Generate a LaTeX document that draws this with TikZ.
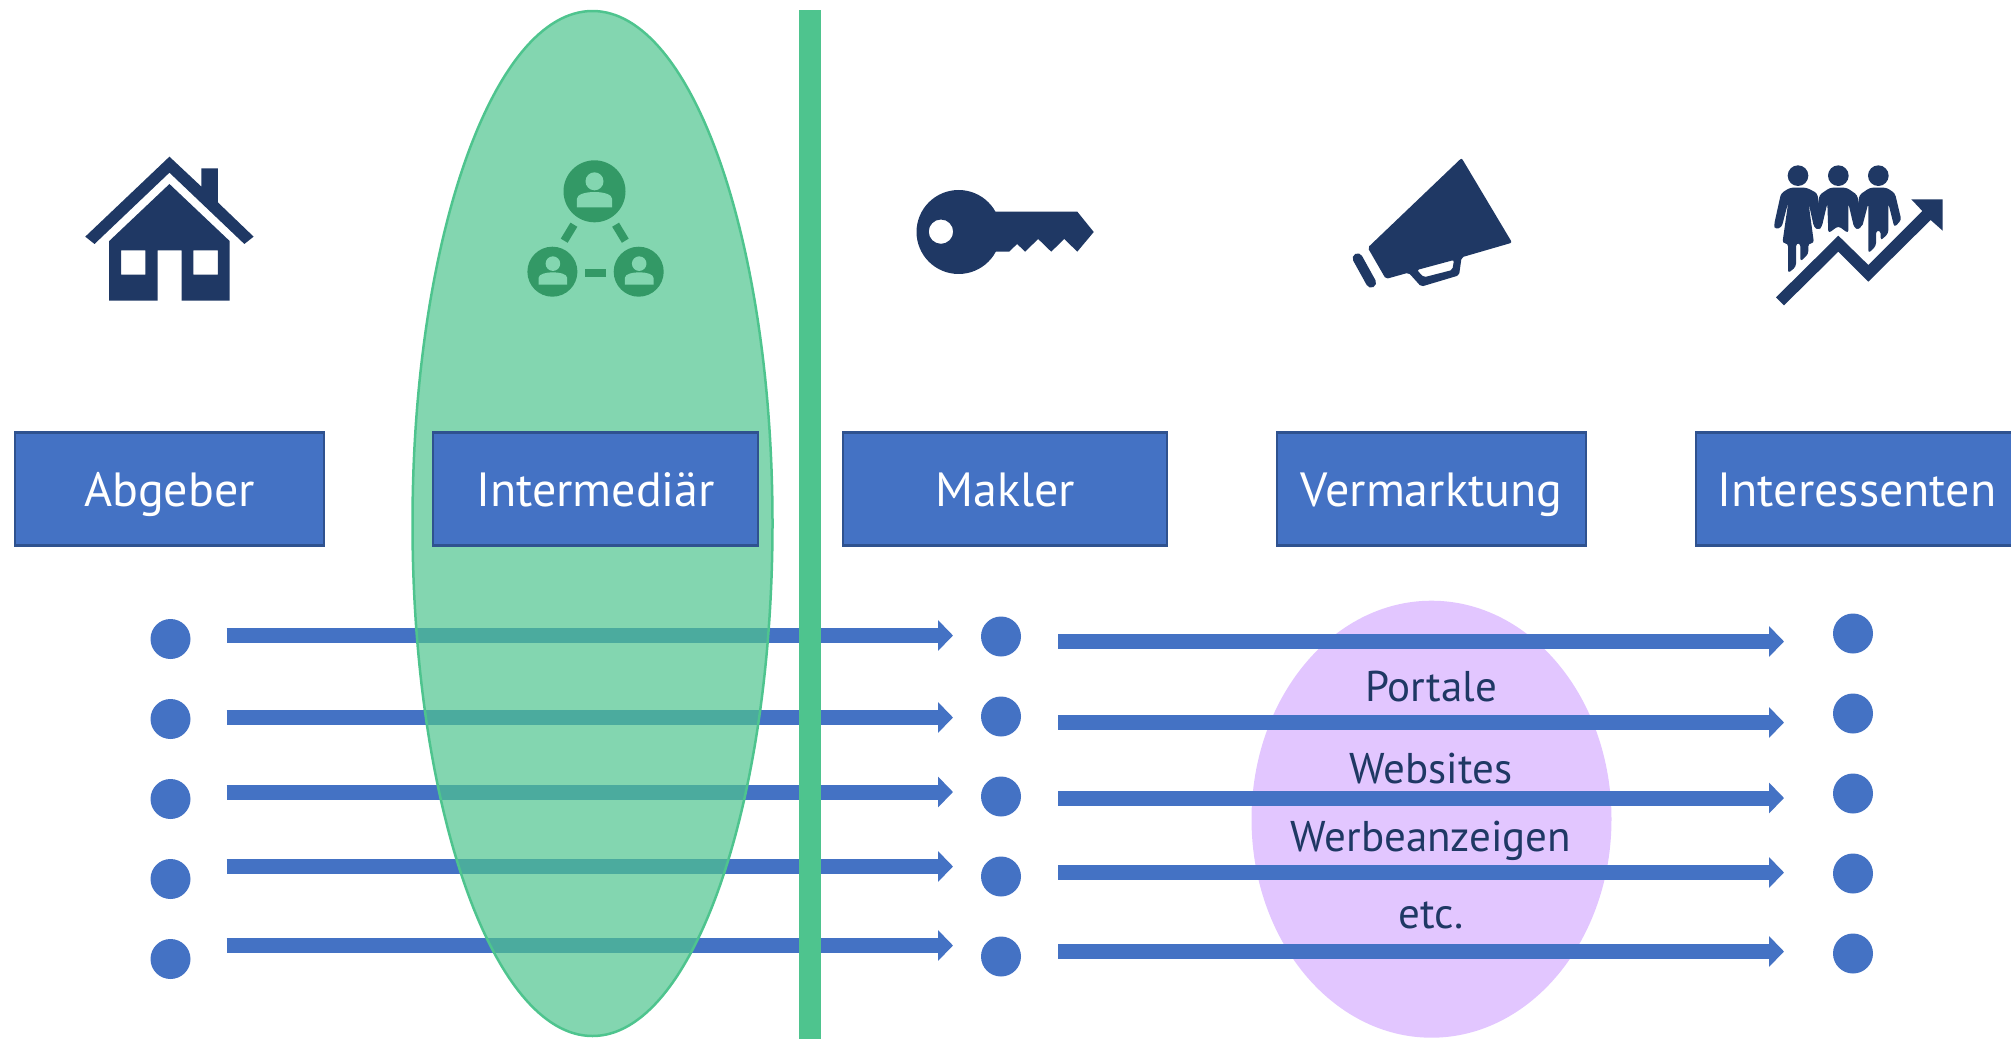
\documentclass[tikz,border=0pt]{standalone}
\usepackage{fontspec}
\setmainfont{PT Sans}
\usepackage{xcolor}
\usetikzlibrary{shapes.geometric,arrows.meta,positioning,backgrounds}
\definecolor{boxblue}{HTML}{4472C4}
\definecolor{boxline}{HTML}{2F528F}
\definecolor{navy}{HTML}{1F3864}
\definecolor{mint}{HTML}{4EC48E}
\definecolor{mintlight}{HTML}{83D6B0}
\definecolor{icongreen}{HTML}{339966}
\definecolor{lilac}{HTML}{E2C6FF}
\tikzset{
    person/.pic={
        \fill[mintlight] (0,-10.7) circle (9);
        \fill[mintlight] (-17.7,15.3) -- (-17.7,7) .. controls (-17.7,2) and (-8,0) .. (0,0) .. controls (8,0) and (17.7,2) .. (17.7,7) -- (17.7,15.3) -- cycle;
    }
}

\begin{document}
\begin{tikzpicture}[
    x=1pt, y=-1pt,
    node distance=40pt,
    labelbox/.style={rectangle, draw=boxline, line width=2.7pt, fill=boxblue, text=white, minimum height=113pt, outer sep=0pt, text height=34pt, text depth=0pt, font=\fontsize{48}{52}\selectfont},
    dot/.style={circle, fill=boxblue, minimum size=40pt, inner sep=0pt, outer sep=0pt},
    flow/.style={draw=boxblue, line width=15pt, -{Triangle[length=15pt,width=30pt]}},
    channel/.style={text=navy, inner sep=0pt, anchor=base, font=\fontsize{43}{47}\selectfont}
]
    \useasboundingbox (0,0) rectangle (2011,1039);

    \node[labelbox, minimum width=309pt] (abgeber) at (169.5,489) {Abgeber};
    \node[labelbox, minimum width=325pt, right=109pt of abgeber] (inter) {Intermediär};
    \node[labelbox, minimum width=324pt, right=85pt of inter] (makler) {Makler};
    \node[labelbox, minimum width=309pt, right=110pt of makler] (verm) {Vermarktung};
    \node[labelbox, minimum width=322pt, right=110pt of verm] (interess) {Interessenten};

    \node[dot, below=73.5pt of abgeber, xshift=1pt] (a1) {};
    \node[dot, below=of a1] (a2) {};
    \node[dot, below=of a2] (a3) {};
    \node[dot, below=of a3] (a4) {};
    \node[dot, below=of a4] (a5) {};

    \node[dot, below=71pt of makler, xshift=-4pt] (m1) {};
    \node[dot, below=of m1] (m2) {};
    \node[dot, below=of m2] (m3) {};
    \node[dot, below=of m3] (m4) {};
    \node[dot, below=of m4] (m5) {};

    \node[dot, below=68pt of interess, xshift=-4pt] (r1) {};
    \node[dot, below=of r1] (r2) {};
    \node[dot, below=of r2] (r3) {};
    \node[dot, below=of r3] (r4) {};
    \node[dot, below=of r4] (r5) {};

    \begin{scope}[on background layer]
        \node[ellipse, fill=lilac, minimum width=360pt, minimum height=437pt, inner sep=0pt, below=55pt of verm] (lilacblob) {};

        \draw[flow] ([shift={(36,-3.5)}]a1.east) -- ([shift={(-28,-1)}]m1.west);
        \draw[flow] ([shift={(36,-1.5)}]a2.east) -- ([shift={(-28,1)}]m2.west);
        \draw[flow] ([shift={(36,-7)}]a3.east) -- ([shift={(-28,-4.5)}]m3.west);
        \draw[flow] ([shift={(36,-12.5)}]a4.east) -- ([shift={(-28,-10)}]m4.west);
        \draw[flow] ([shift={(36,-13.5)}]a5.east) -- ([shift={(-28,-11)}]m5.west);

        \draw[flow] ([shift={(37,5)}]m1.east) -- ([shift={(-49,8)}]r1.west);
        \draw[flow] ([shift={(37,6)}]m2.east) -- ([shift={(-49,9)}]r2.west);
        \draw[flow] ([shift={(37,1.5)}]m3.east) -- ([shift={(-49,4.5)}]r3.west);
        \draw[flow] ([shift={(37,-4)}]m4.east) -- ([shift={(-49,-1)}]r4.west);
        \draw[flow] ([shift={(37,-5)}]m5.east) -- ([shift={(-49,-2)}]r5.west);

        \node[ellipse, draw=mint, line width=2.5pt, fill=mint, fill opacity=0.7, minimum width=360pt, minimum height=1025pt, inner sep=0pt] (greenblob) at (592.5,523.5) {};
        \node[rectangle, fill=mint, minimum width=22pt, minimum height=1029pt, inner sep=0pt] (divider) at (810,524.5) {};
    \end{scope}

    \node[channel] (portale) at (1431,701) {Portale};
    \node[channel] (websites) at (1431,783) {Websites};
    \node[channel] (werbung) at (1431,851) {Werbeanzeigen};
    \node[channel] (etc) at (1431,928) {etc.};

    % house
    \begin{scope}[shift={(60,130)}, xscale=0.4209, yscale=0.3333]
        \fill[navy] (60,320) -- (260,80) -- (336,170) -- (336,115) -- (375,115) -- (375,217) -- (460,320) -- (438,342) -- (260,128) -- (82,342) -- cycle;
        \fill[navy, even odd rule] (260,162) -- (403,333) -- (403,512) -- (289,512) -- (289,361) -- (232,361) -- (232,512) -- (117,512) -- (117,333) -- cycle
            (145,361) rectangle (203,434) (317,361) rectangle (375,434);
    \end{scope}

    % group
    \fill[icongreen] (594.5,191.3) circle (31);
    \fill[icongreen] (552.4,271.7) circle (25);
    \fill[icongreen] (638.7,271.7) circle (25);
    \draw[icongreen, line width=8pt] (573.9,224.7) -- (564.2,240.7);
    \draw[icongreen, line width=8pt] (615.6,224.7) -- (625.3,240.7);
    \draw[icongreen, line width=8pt] (585.3,272.7) -- (605.9,272.7);
    \pic at (594.5,192) {person};
    \pic[scale=0.81] at (552.9,272.3) {person};
    \pic[scale=0.81] at (639.2,272.3) {person};

    % key
    \begin{scope}[shift={(890,130)}, xscale=0.4209, yscale=0.3333]
        \fill[navy, even odd rule] (163,306) ellipse [x radius=100, y radius=126] (121,305) ellipse [x radius=29, y radius=36.5];
        \fill[navy] (240,245) -- (445,245) -- (484,306) -- (445,365) -- (414,327) -- (383,365) -- (352,327) -- (321,365) -- (302,342) -- (283,365) -- (240,365) -- cycle;
    \end{scope}

    % megaphone
    \begin{scope}[shift={(890,130)}, xscale=0.4209, yscale=0.3333]
        \fill[navy, even odd rule] [rounded corners=2pt] (1135,353) -- (1358,84) -- (1478,338) -- (1358,382) -- (1352,436) -- (1262,470) -- (1232,428) -- (1178,447) -- cycle
            (1252,420) -- (1340,390) -- (1336,420) -- (1268,442) -- cycle;
        \draw[navy, line width=10pt, line cap=round] (1111,385) -- (1143,458);
    \end{scope}

    % people
    \begin{scope}[shift={(1740,140)}, scale=0.3333]
        \fill[navy] (174,107) circle (31) (295,107) circle (31) (415,107) circle (31);
        \fill[navy] [rounded corners=3pt] (123,160) -- (150,143) -- (200,143) -- (232,160) -- (246,258) -- (235,270) -- (222,262) -- (205,185) -- (222,310) -- (205,310) -- (205,342) -- (181,365) -- (181,310) -- (168,310) -- (168,380) -- (144,400) -- (144,310) -- (127,310) -- (145,185) -- (125,262) -- (105,268) -- (102,255) -- cycle;
        \fill[navy] [rounded corners=3pt] (238,165) -- (270,143) -- (320,143) -- (352,165) -- (366,258) -- (355,270) -- (342,262) -- (325,190) -- (325,280) -- (295,258) -- (265,280) -- (262,190) -- (245,262) -- (235,270) -- (226,260) -- cycle;
        \fill[navy] [rounded corners=3pt] (358,165) -- (390,143) -- (440,143) -- (465,160) -- (484,240) -- (463,262) -- (445,190) -- (445,280) -- (422,302) -- (422,272) -- (408,272) -- (408,318) -- (385,340) -- (385,190) -- (366,262) -- (345,255) -- cycle;
        \fill[navy] (108,472) -- (132,496) -- (295,335) -- (385,425) -- (572,240) -- (608,272) -- (608,178) -- (514,178) -- (547,213) -- (385,375) -- (295,287) -- cycle;
    \end{scope}
\end{tikzpicture}
\end{document}
